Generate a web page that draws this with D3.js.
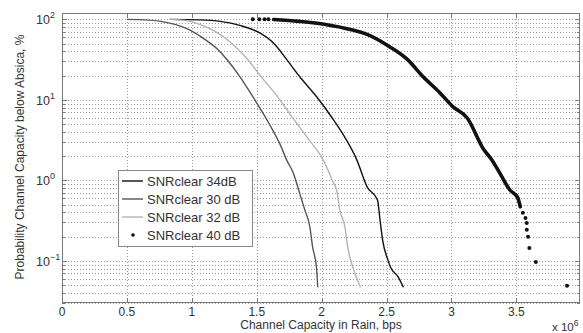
<!DOCTYPE html>
<html><head><meta charset="utf-8">
<script src="https://cdn.jsdelivr.net/npm/d3@7"></script>
<style>
body{margin:0;background:#fff;}
svg{display:block;font-family:"Liberation Sans",Arial,sans-serif;}
</style></head><body>
<svg id="chart" width="583" height="333"></svg>
<script>
// Axis ticks
const xTicks = [0, 0.5, 1, 1.5, 2, 2.5, 3, 3.5];
const xTickLabels = ["0", "0.5", "1", "1.5", "2", "2.5", "3", "3.5"];
const yDecades = [-1, 0, 1, 2];
const seriesNames = ["SNRclear 34dB", "SNRclear 30 dB", "SNRclear 32 dB", "SNRclear 40 dB"];

// [capacity (x10^6 bps), probability %]
const snr30 = [[0.50,100],[0.64,98.6],[0.76,94.4],[0.87,86.6],[0.99,72.9],[1.10,56.4],[1.20,42.3],
  [1.27,31.8],[1.37,19.5],[1.46,11.6],[1.54,7.2],[1.62,4.3],[1.68,2.8],[1.73,1.8],[1.78,1.25],
  [1.83,0.70],[1.87,0.43],[1.91,0.26],[1.93,0.15],[1.96,0.084],[1.97,0.047]];
const snr32 = [[0.83,100],[0.95,97.2],[1.06,86.6],[1.18,70.9],[1.30,51.7],[1.43,31.8],[1.54,18.9],
  [1.66,11.0],[1.77,6.2],[1.89,3.4],[2.01,1.81],[2.08,1.02],[2.12,0.70],[2.14,0.43],[2.18,0.26],
  [2.20,0.15],[2.24,0.084],[2.30,0.047]];
const snr34 = [[0.83,100],[1.06,98.6],[1.22,94.4],[1.37,84.2],[1.53,66.9],[1.64,48.8],[1.73,31.8],
  [1.83,19.5],[1.96,11.0],[2.08,6.0],[2.18,3.4],[2.27,1.81],[2.35,0.83],[2.43,0.57],[2.45,0.32],
  [2.47,0.18],[2.51,0.103],[2.53,0.084],[2.59,0.063],[2.63,0.047]];
// densely packed samples render as a continuous band of dots
const snr40Dense = [[1.63,99.8],[1.83,94.4],[2.03,86.6],[2.22,75.1],[2.35,65.1],[2.52,46.1],
  [2.66,31.8],[2.78,19.5],[2.91,12.3],[3.01,8.25],[3.12,6.0],[3.25,2.4],[3.31,1.81],[3.38,1.17],
  [3.45,0.76],[3.51,0.61],[3.53,0.47]];
const snr40Sparse = [[1.47,100],[1.52,100],[1.56,100],[1.59,100],[3.55,0.395],[3.57,0.342],
  [3.58,0.296],[3.58,0.243],[3.59,0.199],[3.60,0.145],[3.65,0.097],[3.89,0.049]];

const L = 62, R = 580, T = 13, B = 303;
const svg = d3.select("#chart");

const x = d3.scaleLinear().domain([0, 3.99]).range([L, R]);
const y = d3.scaleLog().domain([0.03, 120]).range([B, T]);

const gridColor = "#9a9a9a";
const axisColor = "#7a7a7a";
const textColor = "#333";

// minor + major y values inside the domain
const yAll = [];
for (let k = -2; k <= 2; k++) for (let m = 1; m <= 9; m++) {
  const v = m * Math.pow(10, k);
  if (v >= 0.03 && v <= 120) yAll.push({v, major: m === 1});
}

const grid = svg.append("g");
grid.selectAll("line.hg").data(yAll).join("line")
  .attr("x1", L).attr("x2", R)
  .attr("y1", d => Math.round(y(d.v)) + 0.5).attr("y2", d => Math.round(y(d.v)) + 0.5)
  .attr("stroke", gridColor).attr("stroke-width", 1).attr("stroke-dasharray", "1,2");
grid.selectAll("line.vg").data(xTicks.slice(1)).join("line")
  .attr("x1", d => Math.round(x(d)) + 0.5).attr("x2", d => Math.round(x(d)) + 0.5)
  .attr("y1", T).attr("y2", B)
  .attr("stroke", gridColor).attr("stroke-width", 1).attr("stroke-dasharray", "1,2");

// curves
const line = d3.line().x(d => x(d[0])).y(d => y(d[1])).curve(d3.curveMonotoneX);
const curves = [
  {data: snr34, color: "#111", w: 1.4},
  {data: snr30, color: "#555", w: 1.4},
  {data: snr32, color: "#b4b4b4", w: 1.4}
];
svg.append("g").selectAll("path").data(curves).join("path")
  .attr("d", d => line(d.data)).attr("fill", "none")
  .attr("stroke", d => d.color).attr("stroke-width", d => d.w);

svg.append("path").attr("d", line(snr40Dense)).attr("fill", "none")
  .attr("stroke", "#111").attr("stroke-width", 3.6)
  .attr("stroke-linecap", "round").attr("stroke-linejoin", "round");
svg.append("g").selectAll("circle").data(snr40Sparse).join("circle")
  .attr("cx", d => x(d[0])).attr("cy", d => y(d[1])).attr("r", 2).attr("fill", "#111");

// frame with inward ticks
const frame = svg.append("g").attr("stroke", axisColor).attr("stroke-width", 1);
frame.append("rect").attr("x", L + 0.5).attr("y", T + 0.5)
  .attr("width", R - L - 1).attr("height", B - T - 1).attr("fill", "none");
xTicks.forEach(t => {
  const px = Math.round(x(t)) + 0.5;
  frame.append("line").attr("x1", px).attr("x2", px).attr("y1", B).attr("y2", B - 5);
  frame.append("line").attr("x1", px).attr("x2", px).attr("y1", T).attr("y2", T + 5);
});
yAll.forEach(d => {
  const py = Math.round(y(d.v)) + 0.5;
  const len = d.major ? 5 : 3;
  frame.append("line").attr("x1", L).attr("x2", L + len).attr("y1", py).attr("y2", py);
  frame.append("line").attr("x1", R).attr("x2", R - len).attr("y1", py).attr("y2", py);
});

// x tick labels
svg.append("g").selectAll("text").data(xTicks).join("text")
  .attr("x", d => x(d)).attr("y", 315.5).attr("text-anchor", "middle")
  .attr("font-size", 12).attr("fill", textColor)
  .text((d, i) => xTickLabels[i]);

// y tick labels 10^k
const yl = svg.append("g").selectAll("text").data(yDecades).join("text")
  .attr("x", 36).attr("y", d => y(Math.pow(10, d)) + 5)
  .attr("font-size", 12.5).attr("fill", textColor);
yl.append("tspan").text("10");
yl.append("tspan").attr("font-size", 9).attr("dy", -6).text(d => String(d).replace("-", "\u2212"));

// exponent note
const ex = svg.append("text").attr("x", 552).attr("y", 331).attr("font-size", 11.5).attr("fill", textColor);
ex.append("tspan").text("x 10");
ex.append("tspan").attr("font-size", 8.5).attr("dy", -5).text("6");

// axis titles
svg.append("text").attr("x", 321).attr("y", 329).attr("text-anchor", "middle")
  .attr("font-size", 12).attr("fill", textColor).text("Channel Capacity in Rain, bps");
svg.append("text").attr("transform", "translate(24,157) rotate(-90)")
  .attr("text-anchor", "middle").attr("font-size", 12).attr("fill", textColor)
  .text("Probability Channel Capacity below Absica, %");

// legend
const lg = svg.append("g");
lg.append("rect").attr("x", 118.5).attr("y", 170.5).attr("width", 134).attr("height", 76)
  .attr("fill", "#fff").attr("stroke", "#888");
const legendItems = [
  {name: seriesNames[0], color: "#111", type: "line"},
  {name: seriesNames[1], color: "#555", type: "line"},
  {name: seriesNames[2], color: "#b4b4b4", type: "line"},
  {name: seriesNames[3], color: "#111", type: "dot"}
];
const rowY = [181, 199, 217, 235];
legendItems.forEach((it, i) => {
  const yy = rowY[i];
  if (it.type === "line") {
    lg.append("line").attr("x1", 122).attr("x2", 143).attr("y1", yy).attr("y2", yy)
      .attr("stroke", it.color).attr("stroke-width", 1.4);
  } else {
    lg.append("circle").attr("cx", 133).attr("cy", yy).attr("r", 1.8).attr("fill", it.color);
  }
  lg.append("text").attr("x", 147).attr("y", yy + 4.5).attr("font-size", 13)
    .attr("fill", textColor).text(it.name);
});
</script>
</body></html>
